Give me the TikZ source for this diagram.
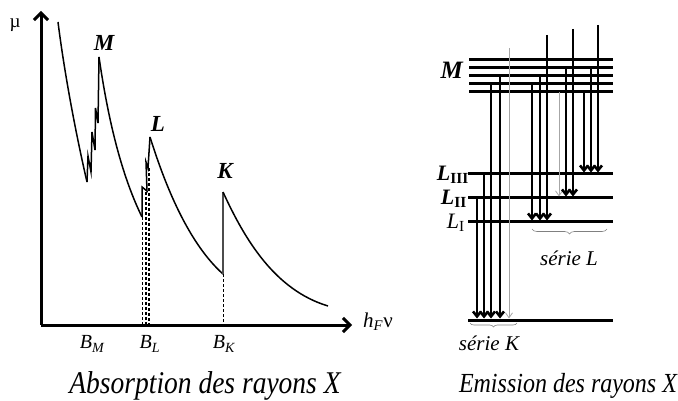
\documentclass[tikz,border=0pt]{standalone}
\usepackage{fontspec}
\setmainfont{Liberation Serif}
\usetikzlibrary{arrows.meta,decorations.pathreplacing}
\newcommand{\tallx}[1]{\scalebox{1}[1.15]{#1}}
\begin{document}
\begin{tikzpicture}[x=1pt,y=-1pt,
  axis/.style={line width=3pt,-{Straight Barb[length=7pt,width=14pt]}},
  curve/.style={line width=1.5pt},
  level/.style={line width=3pt},
  em/.style={line width=2.6pt,-{Straight Barb[length=5pt,width=8pt]}},
  emthin/.style={line width=0.8pt,gray!70,-{Straight Barb[length=5pt,width=7pt]}},
  dsh/.style={line width=1pt,dash pattern=on 3pt off 2pt},
  brc/.style={decorate,decoration={brace,amplitude=4pt,mirror},gray,line width=0.6pt},
  peak/.style={font=\fontsize{23}{26}\selectfont\bfseries\itshape},
  blab/.style={font=\fontsize{20}{24}\selectfont\itshape},
  serie/.style={font=\fontsize{21}{24}\selectfont\itshape},
  lev/.style={font=\fontsize{22}{24}\selectfont\bfseries\itshape,anchor=east,inner sep=1pt}]
\useasboundingbox (0,0) rectangle (678,401);

% ---------------- Absorption ----------------
\coordinate (o) at (41,325);
\coordinate (ytip) at (41,11);
\coordinate (xtip) at (352,325);
\draw[axis] (o) -- (ytip);
\draw[axis] (o) -- (xtip);
\node[font=\fontsize{19}{20}\selectfont] (mu) at (15,25) {µ};
\node[font=\fontsize{21}{24}\selectfont, anchor=west, inner sep=0pt] (hnu) at (363,322) {\textit{h}\textsubscript{\textit{F}}ν};

% curves
\draw[curve] (58,22) .. controls (64,70) and (75,130) .. (87,182);
\draw[curve,line join=miter] (87,182) -- (88,156) -- (91,172) -- (92,132) -- (95,150) -- (95.5,108) -- (98,123) -- (99,57);
\draw[curve] (99,57) .. controls (106,105) and (118,168) .. (142,217);
\draw[curve] (142,217) -- (142,187) -- (147,191) -- (146,162) -- (148,168) -- (150,137);
\draw[curve] (150,137) .. controls (162,175) and (185,240) .. (223,274);
\draw[gray!60!black,line width=1.2pt] (223,274) -- (223,192);
\draw[curve] (223,192) .. controls (245,240) and (275,290) .. (328,306);

% dashed drop lines
\draw[dsh] (142,217) -- (142,325);
\draw[dsh,line width=2pt] (145.5,192) -- (145.5,325);
\draw[dsh,line width=1.3pt] (149,168) -- (149,325);
\draw[dsh] (223,274) -- (223,325);

\node[peak] (pM) at (104,43) {M};
\node[peak] (pL) at (158,124) {L};
\node[peak] (pK) at (225,171) {K};

\node[blab] (bM) at (92,344) {B\textsubscript{M}};
\node[blab] (bL) at (150,344) {B\textsubscript{L}};
\node[blab] (bK) at (224,344) {B\textsubscript{K}};

\node[font=\fontsize{27.5}{30}\selectfont\itshape] (t1) at (205,386) {\tallx{Absorption des rayons X}};

% ---------------- Emission ----------------
\foreach \y in {60,68,76,84,92} \draw[level] (469,\y) -- (613,\y);
\draw[level] (468,174) -- (613,174);
\draw[level] (468,198) -- (613,198);
\draw[level] (468,222) -- (613,222);
\draw[level] (468,320) -- (613,320);

\node[lev,font=\fontsize{25}{26}\selectfont\bfseries\itshape] (lM) at (464,70) {M};
\node[lev] (l3) at (470,175) {L\textsubscript{\bfseries\upshape III}};
\node[lev] (l2) at (468,199) {L\textsubscript{\bfseries\upshape II}};
\node[lev,font=\fontsize{22}{24}\selectfont\itshape] (l1) at (466,223) {L\textsubscript{\upshape I}};

% K series
\draw[em] (477,198) -- (477,318.5);
\draw[em] (484,174) -- (484,318.5);
\draw[em] (491,84) -- (491,318.5);
\draw[em] (500,76) -- (500,318.5);
\draw[emthin] (509,48) -- (509,318.5);
% L_I series
\draw[em] (532,84) -- (532,220.5);
\draw[em] (540,76) -- (540,220.5);
\draw[em] (547,35) -- (547,220.5);
% L_II series
\draw[emthin] (559,92) -- (559,196.5);
\draw[em] (566,68) -- (566,196.5);
\draw[em] (573,29) -- (573,196.5);
% L_III series
\draw[em] (584,92) -- (584,172.5);
\draw[em] (591,68) -- (591,172.5);
\draw[em] (598,25) -- (598,172.5);

\draw[brc] (470,323) -- (517,323);
\draw[brc,decoration={amplitude=5pt}] (532,229) -- (607,229);
\node[serie] (sK) at (489,343) {série K};
\node[serie] (sL) at (569,258) {série L};

\node[font=\fontsize{24}{30}\selectfont\itshape] (t2) at (568,386) {\tallx{Emission des rayons X}};
\end{tikzpicture}
\end{document}
